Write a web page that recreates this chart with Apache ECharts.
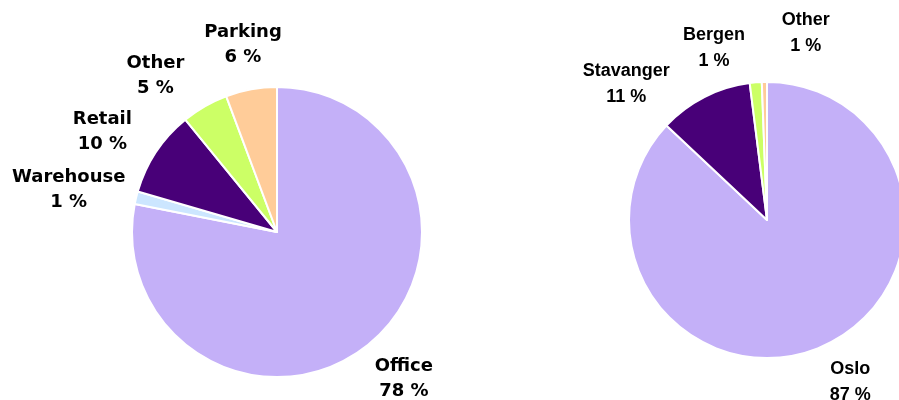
<!DOCTYPE html>
<html><head><meta charset="utf-8">
<script src="https://cdn.jsdelivr.net/npm/echarts@6/dist/echarts.min.js"></script>
<style>html,body{margin:0;padding:0;background:#fff}#c{width:899px;height:400px}</style>
</head><body><div id="c"></div>
<script>
// ---- data ----
const leftCategories = ['Office', 'Warehouse', 'Retail', 'Other', 'Parking'];
const leftValues = [78.1, 1.4, 9.6, 5.2, 5.7];
const rightCategories = ['Oslo', 'Stavanger', 'Bergen', 'Other'];
const rightValues = [87.0, 11.0, 1.4, 0.6];

// ---- styles / layout ----
const leftColors = ['#C4B0F8', '#CCE6FF', '#480078', '#CCFF66', '#FFCC99'];
const rightColors = ['#C4B0F8', '#480078', '#CCFF66', '#FFCC99'];
const leftPie = { cx: 277, cy: 232, r: 145, gap: 24, lineHeight: 25 };
const rightPie = { cx: 767, cy: 220, r: 138, gap: 16, lineHeight: 26 };
const leftNudge = [[1, -3], [11, 4], [-9, 7], [-23, 12], [3, 4]];
const rightNudge = [[14, -3], [-51, 24], [-38, 7], [42, -7]];

function makeLayout(values, pie, nudges) {
  const total = values.reduce((a, b) => a + b, 0);
  return function (p) {
    let cum = 0;
    for (let i = 0; i < p.dataIndex; i++) cum += values[i];
    const mid = (cum + values[p.dataIndex] / 2) / total * 2 * Math.PI;
    const dx = Math.sin(mid), dy = -Math.cos(mid);
    const w = p.labelRect.width, h = p.labelRect.height;
    const n = nudges[p.dataIndex] || [0, 0];
    return {
      x: pie.cx + dx * (pie.r + pie.gap) + dx * w / 2 + n[0],
      y: pie.cy + dy * (pie.r + pie.gap) + dy * h / 2 + n[1],
      align: 'center', verticalAlign: 'middle'
    };
  };
}

function pieSeries(cats, vals, colors, pie, nudges, fontFamily) {
  return {
    type: 'pie',
    center: [pie.cx, pie.cy],
    radius: [0, pie.r],
    startAngle: 90,
    clockwise: true,
    avoidLabelOverlap: false,
    animation: false,
    itemStyle: { borderColor: '#ffffff', borderWidth: 2 },
    label: {
      show: true,
      position: 'outside',
      color: '#000',
      fontWeight: 'bold',
      fontSize: 18,
      lineHeight: pie.lineHeight,
      fontFamily: fontFamily,
      align: 'center',
      formatter: p => p.name + '\n' + Math.round(p.value) + ' %'
    },
    labelLine: { show: false },
    emphasis: { disabled: true },
    labelLayout: makeLayout(vals, pie, nudges),
    data: cats.map((c, i) => ({ name: c, value: vals[i], itemStyle: { color: colors[i] } }))
  };
}

const chart = echarts.init(document.getElementById('c'), null, { renderer: 'canvas' });
chart.setOption({
  backgroundColor: '#ffffff',
  animation: false,
  series: [
    pieSeries(leftCategories, leftValues, leftColors, leftPie, leftNudge, '"DejaVu Sans", sans-serif'),
    pieSeries(rightCategories, rightValues, rightColors, rightPie, rightNudge, '"Liberation Sans", Arial, sans-serif')
  ]
});
</script>
</body></html>
